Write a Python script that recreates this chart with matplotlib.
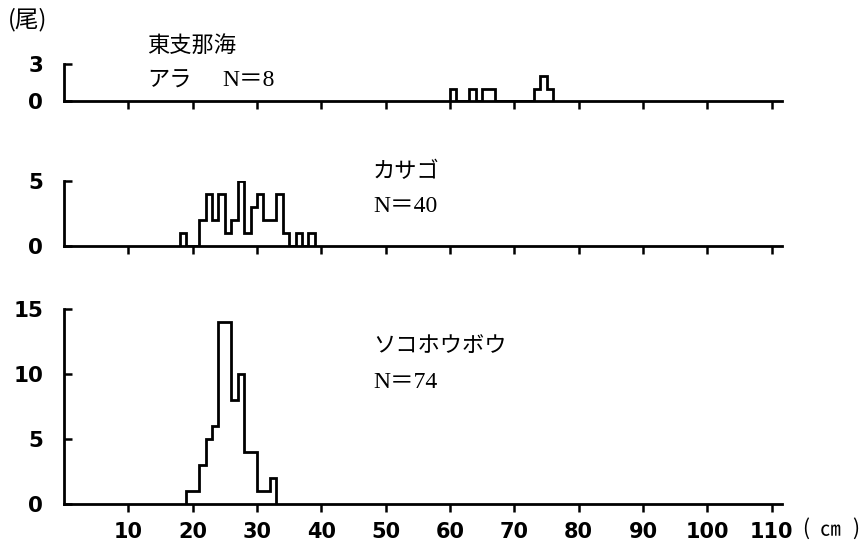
import matplotlib
matplotlib.use("Agg")
import matplotlib.pyplot as plt
import numpy as np

# 体長組成 (1cm 階級, 尾数)
ara_start = 60
ara_counts = [1, 0, 0, 1, 0, 1, 1, 0, 0, 0, 0, 0, 0, 1, 2, 1]
kasago_start = 18
kasago_counts = [1, 0, 0, 2, 4, 2, 4, 1, 2, 5, 1, 3, 4, 2, 2, 4, 1, 0, 1, 0, 1]
sokohoubou_start = 19
sokohoubou_counts = [1, 1, 3, 5, 6, 14, 14, 8, 10, 4, 4, 1, 1, 2]

x_ticks = [10, 20, 30, 40, 50, 60, 70, 80, 90, 100, 110]
JP = ["Noto Sans CJK JP"]
SERIF_JP = ["Liberation Serif", "Noto Sans CJK JP"]

W, H = 867, 547
fig = plt.figure(figsize=(W / 100, H / 100), dpi=100)


def px_axes(y0, y1):
    # y0: 目盛0の行, y1: 上端の行 (ピクセル)
    left, right = 64, 782
    return fig.add_axes([left / W, 1 - y0 / H, (right - left) / W, (y0 - y1) / H])


def panel(ax, start, counts, ymax, yticks, show_xlabels):
    edges = np.arange(start, start + len(counts) + 1)
    ax.stairs(counts, edges, baseline=0, fill=False, color="black", lw=2.0)
    ax.set_xlim(0, 111.6)
    ax.set_ylim(0, ymax)
    for s in ("top", "right"):
        ax.spines[s].set_visible(False)
    for s in ("left", "bottom"):
        ax.spines[s].set_linewidth(2.0)
    ax.set_xticks(x_ticks)
    ax.set_yticks(yticks)
    ax.tick_params(axis="x", direction="out", length=6, width=1.8, pad=7,
                   labelsize=15, labelbottom=show_xlabels)
    ax.tick_params(axis="y", direction="in", length=6, width=1.8, pad=15,
                   labelsize=15.5)
    for lab in ax.get_xticklabels() + ax.get_yticklabels():
        lab.set_fontweight("bold")


ax1 = px_axes(101, 64)
panel(ax1, ara_start, ara_counts, 3, [0, 3], False)
ax2 = px_axes(246, 181)
panel(ax2, kasago_start, kasago_counts, 5, [0, 5], False)
ax3 = px_axes(504, 309)
panel(ax3, sokohoubou_start, sokohoubou_counts, 15, [0, 5, 10, 15], True)


def label(x, y, s, family, size=16, ha="left"):
    fig.text(x / W, 1 - y / H, s, family=family, fontsize=size,
             ha=ha, va="center")


label(8, 20, "(尾)", JP, 17)
label(147, 45, "東支那海", JP)
label(147, 80, "アラ", JP)
label(222, 80, "N＝8", SERIF_JP, 17)
label(373, 172, "カサゴ", JP)
label(373, 207, "N＝40", SERIF_JP, 17)
label(373, 345, "ソコホウボウ", JP)
label(373, 383, "N＝74", SERIF_JP, 17)
# 単位 (cm)
label(806, 529, "(", JP, 15, "center")
label(830, 530, "㎝", JP, 15, "center")
label(856, 529, ")", JP, 15, "center")

fig.savefig("out.png", dpi=100, facecolor="white")
